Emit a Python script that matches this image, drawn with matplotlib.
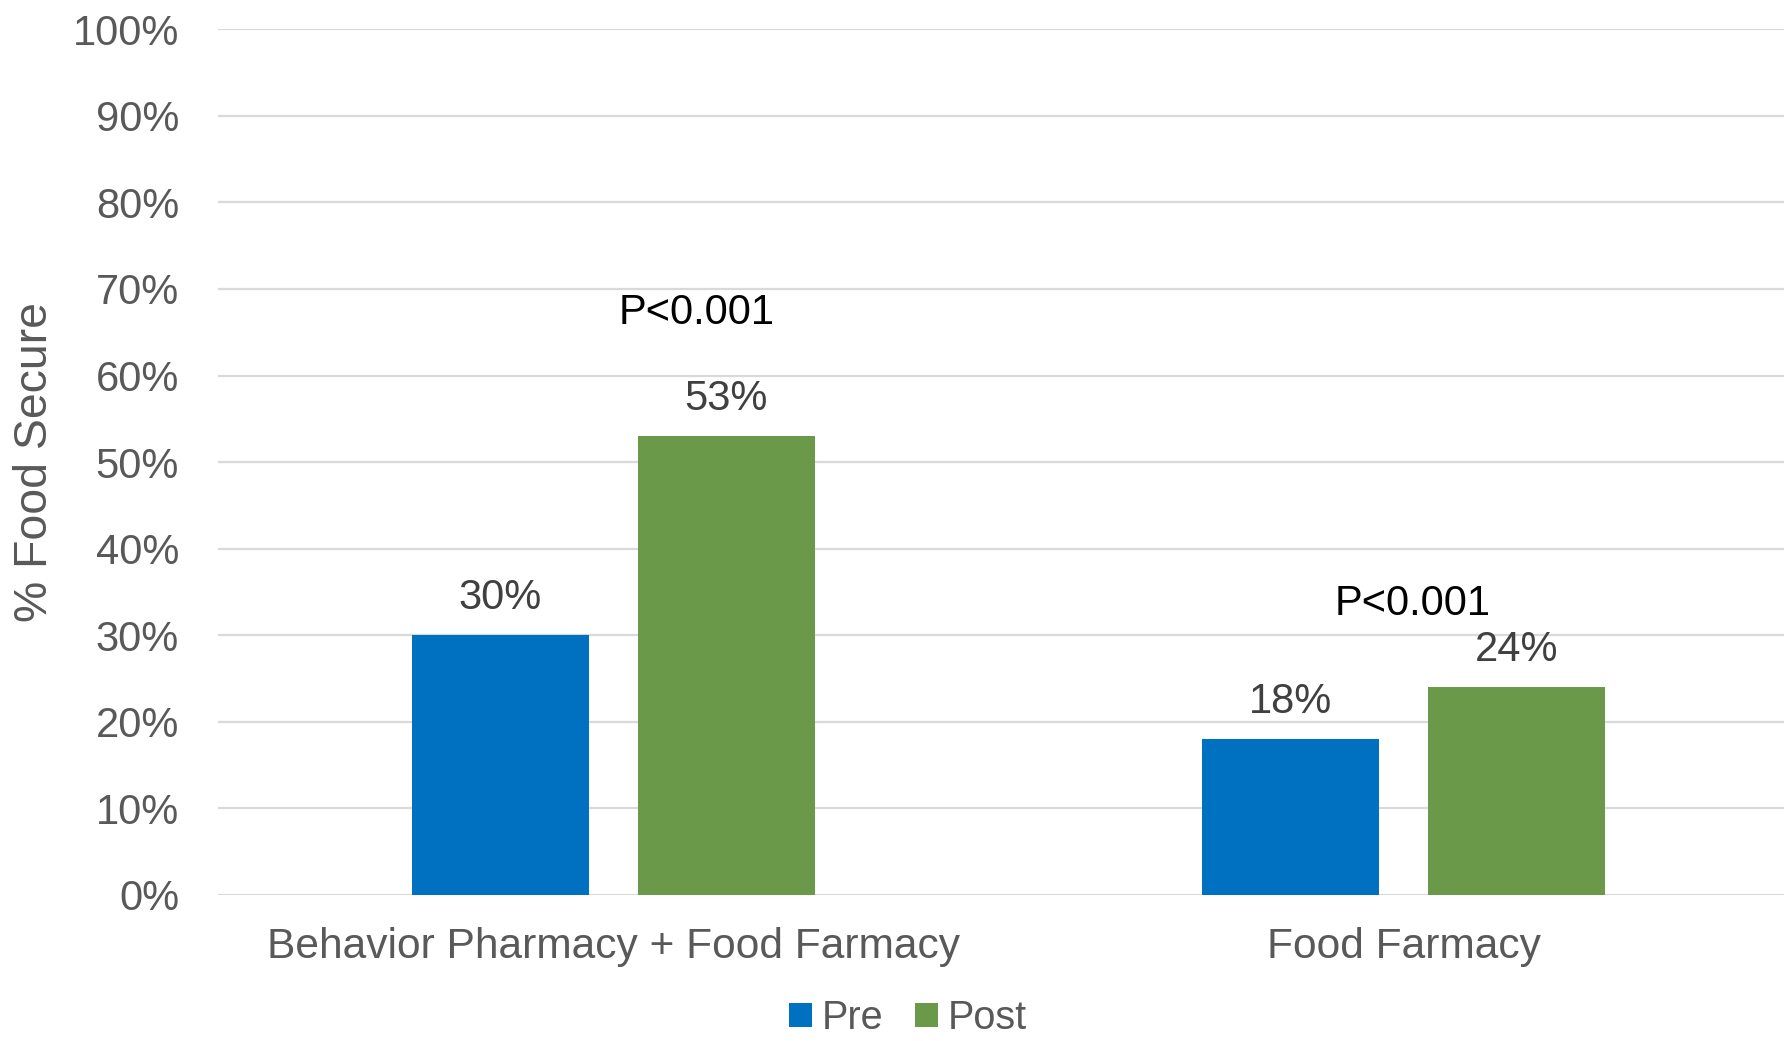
import matplotlib
matplotlib.use("Agg")
import matplotlib.pyplot as plt
import numpy as np

plt.rcParams['font.family'] = ['Liberation Sans', 'DejaVu Sans']

# Data
categories = ["Behavior Pharmacy + Food Farmacy", "Food Farmacy"]
series_names = ["Pre", "Post"]
pre_values = [30, 18]
post_values = [53, 24]
p_labels = ["P<0.001", "P<0.001"]
p_label_pos = [(0.106, 67.2), (1.011, 33.6)]
yticks = [0, 10, 20, 30, 40, 50, 60, 70, 80, 90, 100]

blue = "#0070C0"
green = "#6A994A"
tick_gray = "#595959"
label_gray = "#404040"
grid_gray = "#D9D9D9"

fig = plt.figure(figsize=(17.84, 10.41), dpi=100)
ax = fig.add_axes([0.1222, 0.1403, 0.8862, 0.8316])

x = np.arange(len(categories))
width = 0.224
offset = 0.1428

bars_pre = ax.bar(x - offset, pre_values, width, color=blue, label=series_names[0], zorder=3)
bars_post = ax.bar(x + offset, post_values, width, color=green, label=series_names[1], zorder=3)

ax.set_xlim(-0.5, 1.5)
ax.set_ylim(0, 100)
ax.set_yticks(yticks)
ax.set_yticklabels([f"{t}%" for t in yticks])
ax.set_xticks(x)
ax.set_xticklabels(categories)

ax.tick_params(axis='y', length=0, pad=28, labelsize=30, labelcolor=tick_gray)
ax.tick_params(axis='x', length=0, pad=23, labelsize=30.6, labelcolor=tick_gray)

ax.grid(axis='y', color=grid_gray, linewidth=1.6, zorder=0)
ax.set_axisbelow(True)
for s in ax.spines.values():
    s.set_visible(False)

# Value labels above each bar
for bars, vals in ((bars_pre, pre_values), (bars_post, post_values)):
    for b, v in zip(bars, vals):
        ax.annotate(f"{v}%", (b.get_x() + b.get_width() / 2, v),
                    xytext=(0, 27), textcoords='offset points',
                    ha='center', va='center', fontsize=30, color=label_gray)

# Significance annotations
for txt, (px, py) in zip(p_labels, p_label_pos):
    ax.text(px, py, txt, ha='center', va='center', fontsize=30, color='black')

fig.text(35 / 1784, 0.5557, "% Food Secure", rotation=90, ha='center', va='center',
         fontsize=33.4, color=tick_gray)

fig.legend(handles=[bars_pre, bars_post], labels=series_names, loc='center',
           bbox_to_anchor=(0.509, 0.022), ncol=2, frameon=False, fontsize=28.5,
           labelcolor=tick_gray, handlelength=0.57, handleheight=0.57,
           handletextpad=0.26, columnspacing=0.8, borderpad=0, borderaxespad=0)

fig.savefig("out.png", dpi=100)
